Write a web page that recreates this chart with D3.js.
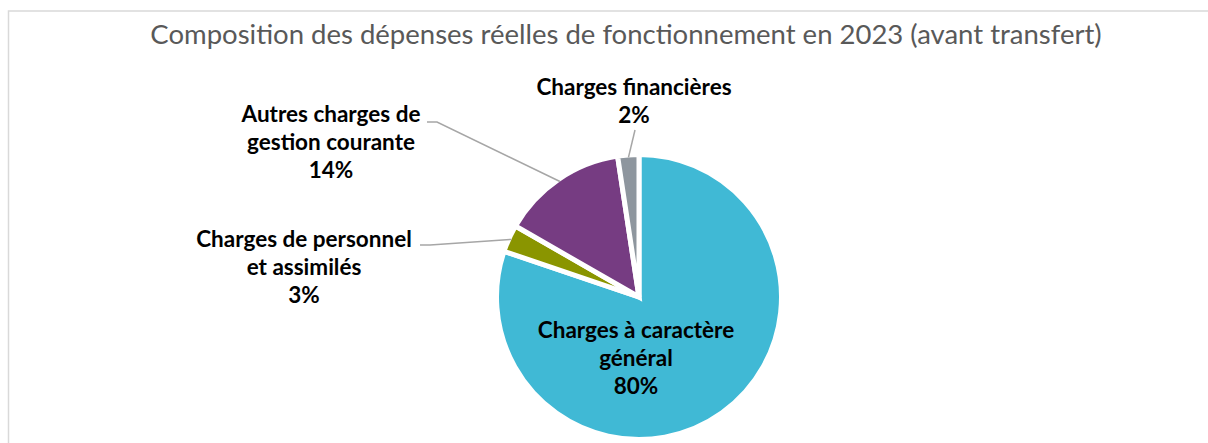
<!DOCTYPE html>
<html>
<head>
<meta charset="utf-8">
<script src="https://cdn.jsdelivr.net/npm/d3@7"></script>
<style>
  body { margin: 0; background: #fff; }
  svg { display: block; }
  .title { font-family: Lato, "Open Sans", sans-serif; fill: #595959; }
  .label { font-family: Lato, "Open Sans", sans-serif; font-weight: bold; fill: #000; }
</style>
</head>
<body>
<svg id="chart" width="1208" height="443"></svg>
<script>
// data
const categories = ["Charges à caractère général", "Charges de personnel et assimilés",
                    "Autres charges de gestion courante", "Charges financières"]
const labelLines = [["Charges à caractère", "général"],
                    ["Charges de personnel", "et assimilés"],
                    ["Autres charges de", "gestion courante"],
                    ["Charges financières"]]
const shares = [80.2, 3.1, 14.3, 2.4]
const colors = ["#40B9D5", "#8A9500", "#763C82", "#8E969E"]
const title = "Composition des dépenses réelles de fonctionnement en 2023 (avant transfert)"

// layout of the labels (x center, first baseline, leader start)
const labelPos = [
    {x: 636, y: 338, lead: null},
    {x: 304, y: 247, lead: [[420, 245], [430, 245]]},
    {x: 331, y: 122, lead: [[427, 122], [437, 122]]},
    {x: 634, y: 95,  lead: [[635, 130]]}
]

const width = 1208, height = 443
const cx = 639, cy = 297, radius = 140
const lineH = 28

let svg = d3.select("#chart")

// chart frame
svg.append("rect")
    .attr("x", 8.5).attr("y", 11)
    .attr("width", width + 20).attr("height", height + 20)
    .attr("fill", "none")
    .attr("stroke", "#d9d9d9")
    .attr("stroke-width", 1.5)

// title
svg.append("text")
    .attr("class", "title")
    .attr("x", 626).attr("y", 44)
    .attr("text-anchor", "middle")
    .style("font-size", "27.5px")
    .text(title)

let total = d3.sum(shares)
let pie = d3.pie().sort(null).value(d => d)
let arcs = pie(shares)

let arc = d3.arc().innerRadius(0).outerRadius(radius + 2.5)
let edge = d3.arc().innerRadius(radius).outerRadius(radius)

let g = svg.append("g").attr("transform", `translate(${cx},${cy})`)

g.selectAll(".slice").data(arcs)
    .enter().append("path")
    .attr("class", "slice")
    .attr("d", arc)
    .attr("fill", (d, i) => colors[i])
    .attr("stroke", "#fff")
    .attr("stroke-width", 5)
    .attr("stroke-linejoin", "miter")

// leader lines
let line = d3.line()
arcs.forEach(function (d, i) {
    let p = labelPos[i]
    if (!p.lead) return
    let end = edge.centroid(d)
    let pts = p.lead.concat([[end[0] + cx, end[1] + cy]])
    svg.append("path")
        .attr("d", line(pts))
        .attr("fill", "none")
        .attr("stroke", "#a6a6a6")
        .attr("stroke-width", 1.5)
})

// labels
arcs.forEach(function (d, i) {
    let p = labelPos[i]
    let lines = labelLines[i].concat([Math.round(d.data / total * 100) + "%"])
    let t = svg.append("text")
        .attr("class", "label")
        .attr("text-anchor", "middle")
        .style("font-size", "22.5px")
    lines.forEach(function (s, k) {
        t.append("tspan")
            .attr("x", p.x)
            .attr("y", p.y + k * lineH)
            .text(s)
    })
})
</script>
</body>
</html>
